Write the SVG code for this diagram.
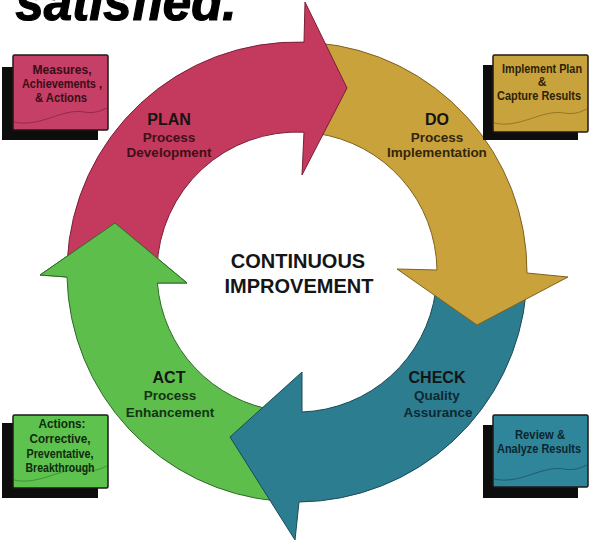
<svg xmlns="http://www.w3.org/2000/svg" width="596" height="542" viewBox="0 0 596 542">
  <style>
    text { font-family: "Liberation Sans", Arial, sans-serif; font-weight: bold; text-anchor: middle; }
    .head { font-size: 16px; fill: #141414; }
    .sub { font-size: 13.5px; }
    .center { font-size: 20px; fill: #151515; }
    .box { font-size: 12px; }
    .shadow { fill: #0d0d0d; }
    .card { stroke: #1e1a18; stroke-width: 1.5; }
    .wave { fill: none; stroke-width: 1; opacity: 0.55; }
    .edge { fill: none; stroke-width: 1; stroke-linejoin: miter; }
  </style>

  <!-- heading fragment at the very top -->
  <text x="126" y="20" style="font-size:51px;font-style:italic;font-weight:bold;fill:#000;stroke:#000;stroke-width:1.2">satisfied.</text>

  <!-- cycle arrows: ring centre (297,272), outer r 230, inner r 140 -->
  <g id="connectors">
    <g id="arrow-act">
      <path d="M 277,501 A 230 230 0 0 1 67,277 L 40,275 L 115,223 L 187,283 L 157.4,283 A 140 140 0 0 0 277.5,410.6 Z" fill="#5EBE4C" stroke="#2F6B28" stroke-width="1"/>
    </g>
    <g id="arrow-check">
      <path d="M 526.1,292 A 230 230 0 0 1 299,502 L 295,540 L 230,437 L 302,372 L 302,412 A 140 140 0 0 0 435.6,291.5 Z" fill="#2D7D91" stroke="#1A4A57" stroke-width="1"/>
    </g>
    <g id="arrow-do">
      <path d="M 317,42.9 A 230 230 0 0 1 527,273 L 568,277 L 477,325 L 397,269 L 437,270 A 140 140 0 0 0 316.5,133.4 Z" fill="#C9A23C" stroke="#7D6220" stroke-width="1"/>
    </g>
    <g id="arrow-plan">
      <path d="M 67.2,262 A 230 230 0 0 1 304,42.1 L 305,2 L 347,88 L 302,175 L 304,132.2 A 140 140 0 0 0 157.05,268.3 Z" fill="#C43A5E" stroke="#7A1F36" stroke-width="1"/>
    </g>
    <!-- green head laid over the tail of the red arrow -->
    <g id="arrow-act-head">
      <polygon points="40,275 115,223 187,283 157.4,283 67,277" fill="#5EBE4C"/>
      <polyline class="edge" points="67,277 40,275 115,223 187,283 157.4,283" stroke="#2F6B28"/>
    </g>
  </g>

  <!-- stage labels -->
  <g id="label-plan">
    <text class="head" x="169" y="125">PLAN</text>
    <text class="sub" x="169" y="142" fill="#3E1019">Process</text>
    <text class="sub" x="169" y="157" fill="#3E1019">Development</text>
  </g>
  <g id="label-do">
    <text class="head" x="437" y="125">DO</text>
    <text class="sub" x="437" y="142" fill="#33260A">Process</text>
    <text class="sub" x="437" y="157" fill="#33260A">Implementation</text>
  </g>
  <g id="label-check">
    <text class="head" x="437" y="383" fill="#0E2832">CHECK</text>
    <text class="sub" x="437" y="400" fill="#0E2832">Quality</text>
    <text class="sub" x="438" y="417" fill="#0E2832">Assurance</text>
  </g>
  <g id="label-act">
    <text class="head" x="169" y="383">ACT</text>
    <text class="sub" x="170" y="400" fill="#133413">Process</text>
    <text class="sub" x="170" y="417" fill="#133413">Enhancement</text>
  </g>

  <g id="center-label">
    <text class="center" x="298" y="268">CONTINUOUS</text>
    <text class="center" x="299" y="293">IMPROVEMENT</text>
  </g>

  <!-- corner cards -->
  <g id="card-plan">
    <rect class="shadow" x="2" y="67" width="96" height="73"/>
    <rect class="card" x="13" y="55" width="95" height="75" rx="1.5" fill="#C63F66"/>
    <path class="wave" d="M 14,122 C 40,128 62,108 84,112 C 96,114 102,110 107,108" stroke="#6E1A32"/>
    <text class="box" x="62" y="74" textLength="59" lengthAdjust="spacingAndGlyphs" fill="#3A0C16">Measures,</text>
    <text class="box" x="62" y="88" textLength="80" lengthAdjust="spacingAndGlyphs" fill="#3A0C16">Achievements ,</text>
    <text class="box" x="61" y="102" textLength="52" lengthAdjust="spacingAndGlyphs" fill="#3A0C16">&amp; Actions</text>
  </g>
  <g id="card-do">
    <rect class="shadow" x="483" y="65" width="95" height="75"/>
    <rect class="card" x="493" y="55" width="95" height="77" rx="1.5" fill="#C8A23C"/>
    <path class="wave" d="M 494,123 C 520,129 542,109 564,113 C 576,115 582,111 587,109" stroke="#6E5414"/>
    <text class="box" x="542" y="73" textLength="80" lengthAdjust="spacingAndGlyphs" fill="#2E2206">Implement Plan</text>
    <text class="box" x="542" y="86" fill="#2E2206">&amp;</text>
    <text class="box" x="539" y="100" textLength="84" lengthAdjust="spacingAndGlyphs" fill="#2E2206">Capture Results</text>
  </g>
  <g id="card-act">
    <rect class="shadow" x="2" y="423" width="96" height="75"/>
    <rect class="card" x="13" y="415" width="95" height="73" rx="1.5" fill="#5EC24F"/>
    <path class="wave" d="M 14,480 C 40,486 62,466 84,470 C 96,472 102,468 107,466" stroke="#2B6A22"/>
    <text class="box" x="62" y="428" textLength="47" lengthAdjust="spacingAndGlyphs" fill="#0F2A0C">Actions:</text>
    <text class="box" x="60" y="443" textLength="61" lengthAdjust="spacingAndGlyphs" fill="#0F2A0C">Corrective,</text>
    <text class="box" x="60" y="458" textLength="67" lengthAdjust="spacingAndGlyphs" fill="#0F2A0C">Preventative,</text>
    <text class="box" x="60" y="472" textLength="69" lengthAdjust="spacingAndGlyphs" fill="#0F2A0C">Breakthrough</text>
  </g>
  <g id="card-check">
    <rect class="shadow" x="483" y="425" width="95" height="73"/>
    <rect class="card" x="493" y="415" width="95" height="72" rx="1.5" fill="#2F8599"/>
    <path class="wave" d="M 494,479 C 520,485 542,465 564,469 C 576,471 582,467 587,465" stroke="#123E4A"/>
    <text class="box" x="540" y="439" textLength="50" lengthAdjust="spacingAndGlyphs" fill="#0C2530">Review &amp;</text>
    <text class="box" x="539" y="453" textLength="84" lengthAdjust="spacingAndGlyphs" fill="#0C2530">Analyze Results</text>
  </g>
</svg>
